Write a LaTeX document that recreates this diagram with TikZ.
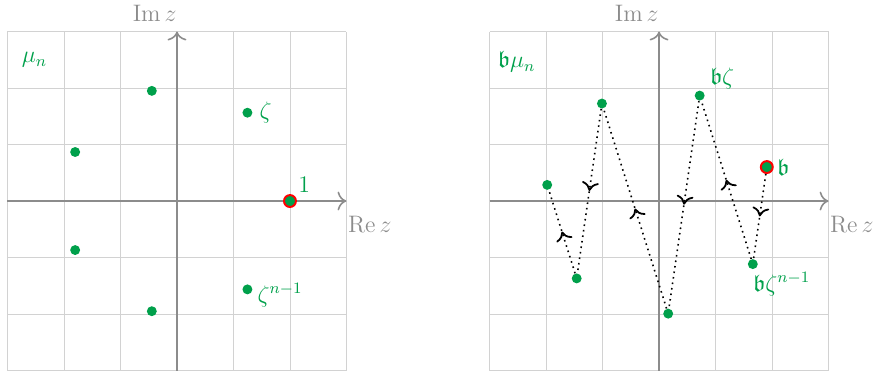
\documentclass[tikz,border=0pt]{standalone}
\usepackage{amsmath,amssymb}
\usetikzlibrary{arrows.meta,decorations.markings}
\definecolor{rootgreen}{RGB}{0,160,75}

\begin{document}
\begin{tikzpicture}[x=2cm,y=2cm,
  gridline/.style={gray!35,line width=0.45pt},
  axis/.style={black!45,line width=0.8pt,-{To[length=4.5pt,width=9.5pt]}},
  axlbl/.style={text=black!45,inner sep=0pt,font=\large},
  root/.style={circle,fill=rootgreen,inner sep=0pt,minimum size=5pt},
  base/.style={root,draw=red,line width=1pt,minimum size=6pt},
  lbl/.style={text=rootgreen,inner sep=3pt,font=\large},
  hop/.style={dotted,line width=0.8pt,decoration={markings,mark=at position 0.5 with {\arrow[solid,line width=0.9pt]{To[length=4.5pt,width=8.5pt]}}},postaction={decorate}}]
\useasboundingbox (0,0) rectangle (7.752,3.354);

% left plane: the n-th roots of unity
\begin{scope}[shift={(1.566,1.575)}]
\draw[gridline] (-1.5,-1.5) grid[step=0.5] (1.5,1.5);
\draw[axis] (-1.5,0) -- (1.5,0) coordinate (reL);
\draw[axis] (0,-1.5) -- (0,1.5) coordinate (imL);
\node[axlbl,anchor=base west] at (1.51,-0.274) {$\operatorname{Re} z$};
\node[axlbl,anchor=base east] at (0,1.593) {$\operatorname{Im} z$};
\foreach \k in {1,...,6}
  \node[root] (z\k) at ({\k*360/7}:1) {};
\node[base] (z0) at (0:1) {};
\node[lbl,above right,xshift=1pt,yshift=1pt] at (z0) {$1$};
\node[lbl,right,xshift=3pt] at (z1) {$\zeta$};
\node[lbl,right,xshift=2pt,yshift=-3pt] at (z6) {$\zeta^{n-1}$};
\node[lbl] (muL) at (-1.26,1.25) {$\mu_n$};
\end{scope}

% right plane: the coset b mu_n
\begin{scope}[shift={(5.832,1.575)}]
\draw[gridline] (-1.5,-1.5) grid[step=0.5] (1.5,1.5);
\draw[axis] (-1.5,0) -- (1.5,0) coordinate (reR);
\draw[axis] (0,-1.5) -- (0,1.5) coordinate (imR);
\node[axlbl,anchor=base west] at (1.51,-0.274) {$\operatorname{Re} z$};
\node[axlbl,anchor=base east] at (0,1.593) {$\operatorname{Im} z$};
\foreach \k in {1,...,6}
  \node[root] (w\k) at ({17.5+\k*360/7}:1) {};
\node[base] (w0) at (17.5:1) {};
\foreach \a/\b in {0/6,6/1,1/5,5/2,2/4,4/3}
  \draw[hop] (w\a) -- (w\b);
\node[lbl,right,xshift=2pt] at (w0) {$\mathfrak{b}$};
\node[lbl,above right,xshift=2pt] at (w1) {$\mathfrak{b}\zeta$};
\node[lbl,below right,xshift=-3pt,yshift=-1pt] at (w6) {$\mathfrak{b}\zeta^{n-1}$};
\node[lbl] (muR) at (-1.26,1.23) {$\mathfrak{b}\mu_n$};
\end{scope}
\end{tikzpicture}
\end{document}
